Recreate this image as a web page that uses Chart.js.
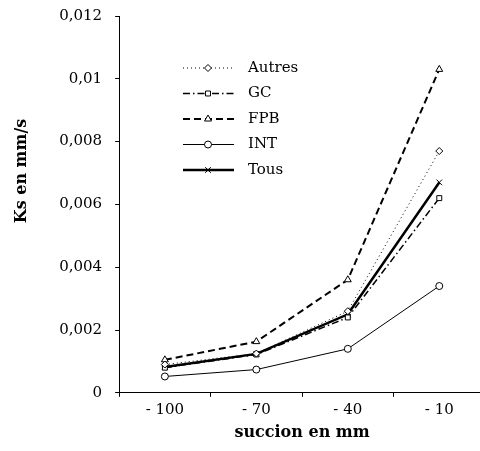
<!DOCTYPE html>
<html>
<head>
<meta charset="utf-8">
<script src="https://cdn.jsdelivr.net/npm/chart.js@4"></script>
<style>
  html, body { margin: 0; padding: 0; background: #fff; overflow: hidden; }
  #wrap { width: 490px; height: 457px; position: relative; top: -6px; }
</style>
</head>
<body>
<div id="wrap"><canvas id="chart" width="490" height="457"></canvas></div>
<script>
const categories = ['- 100', '- 70', '- 40', '- 10'];
const autres = [0.0009, 0.00125, 0.0026, 0.0077];
const gc = [0.0008, 0.00122, 0.0024, 0.0062];
const fpb = [0.00105, 0.00163, 0.0036, 0.0103];
const intv = [0.00052, 0.00074, 0.0014, 0.0034];
const tous = [0.00082, 0.00124, 0.0025, 0.0067];

const FONT = '"DejaVu Serif", serif';

// legend drawn inside the plot, line + marker + text like the original
const insideLegend = {
  id: 'insideLegend',
  afterDraw(chart) {
    const ctx = chart.ctx;
    const x0 = 183, x1 = 234, xm = 208, xt = 248;
    let y = 74;
    chart.data.datasets.forEach((ds) => {
      ctx.save();
      ctx.strokeStyle = '#000';
      ctx.lineWidth = ds.borderWidth;
      ctx.setLineDash(ds.borderDash || []);
      ctx.beginPath();
      ctx.moveTo(x0, y);
      ctx.lineTo(x1, y);
      ctx.stroke();
      ctx.setLineDash([]);
      ctx.lineWidth = 1;
      ctx.fillStyle = '#fff';
      Chart.helpers.drawPoint(ctx, {
        pointStyle: ds.pointStyle, radius: ds.pointRadius, borderWidth: 1, rotation: 0
      }, xm, y);
      ctx.fillStyle = '#000';
      ctx.font = '15px ' + FONT;
      ctx.textBaseline = 'middle';
      ctx.fillText(ds.label, xt, y);
      ctx.restore();
      y += 25.5;
    });
  }
};

function line(label, data, width, dash, style, radius) {
  return {
    label, data,
    borderColor: '#000',
    backgroundColor: '#fff',
    borderWidth: width,
    borderDash: dash,
    pointStyle: style,
    pointRadius: radius,
    pointBorderColor: '#000',
    pointBackgroundColor: '#fff',
    pointBorderWidth: 1,
    tension: 0
  };
}

// leading spaces push the rotated y title a bit above the centre, as in the original
const yTitle = '\u00A0'.repeat(12) + 'Ks en mm/s';

new Chart(document.getElementById('chart'), {
  type: 'line',
  data: {
    labels: categories,
    datasets: [
      line('Autres', autres, 1, [1, 3], 'rectRot', 3.5),
      line('GC', gc, 1.5, [7, 3, 1.5, 3], 'rect', 3.5),
      line('FPB', fpb, 2, [7, 4], 'triangle', 4),
      line('INT', intv, 1, [], 'circle', 3.5),
      line('Tous', tous, 2.5, [], 'crossRot', 4)
    ]
  },
  options: {
    responsive: false,
    animation: false,
    layout: { padding: { top: 2, right: 0, left: 2, bottom: 5 } },
    plugins: { legend: { display: false }, tooltip: { enabled: false } },
    scales: {
      x: {
        offset: true,
        grid: { offset: true, drawOnChartArea: false, tickLength: 4, color: '#000' },
        border: { color: '#000', width: 1 },
        ticks: { color: '#000', font: { family: FONT, size: 15 }, padding: 4 },
        title: { display: true, text: 'succion en mm', color: '#000', font: { family: FONT, size: 16, weight: 'bold' }, padding: { top: 0 } }
      },
      y: {
        min: 0, max: 0.012,
        grid: { drawOnChartArea: false, tickLength: 4, color: '#000' },
        border: { color: '#000', width: 1 },
        ticks: {
          stepSize: 0.002, color: '#000', padding: 13,
          font: { family: FONT, size: 15 },
          callback: v => String(Math.round(v * 1000) / 1000).replace('.', ',')
        },
        title: { display: true, text: yTitle, color: '#000', font: { family: FONT, size: 16, weight: 'bold' }, padding: { top: 10, bottom: 15 } }
      }
    }
  },
  plugins: [insideLegend]
});
</script>
</body>
</html>
